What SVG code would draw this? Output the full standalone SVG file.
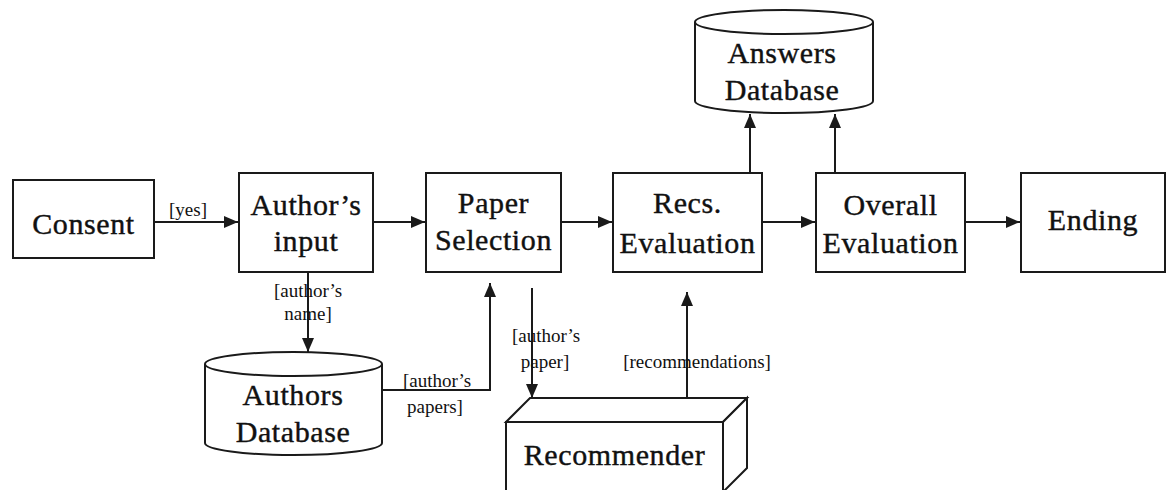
<svg xmlns="http://www.w3.org/2000/svg" width="1167" height="490" viewBox="0 0 1167 490">
  <style>
    .box { fill: #ffffff; stroke: #1a1a1a; stroke-width: 2; }
    .node { font-family: 'Liberation Serif', serif; font-size: 30px; letter-spacing: 0.6px; fill: #111111; stroke: #111111; stroke-width: 0.4; text-anchor: middle; }
    .edge { fill: none; stroke: #1a1a1a; stroke-width: 2; }
    .lbl { font-family: 'Liberation Serif', serif; font-size: 19px; fill: #111111; text-anchor: middle; }
  </style>
  <defs>
    <marker id="arrow" viewBox="0 0 14 12" refX="14" refY="6" markerWidth="14" markerHeight="12" markerUnits="userSpaceOnUse" orient="auto">
      <path d="M0,0 L14,6 L0,12 Z" fill="#1a1a1a"/>
    </marker>
  </defs>
  <rect width="1167" height="490" fill="#ffffff"/>

  <!-- process steps -->
  <g id="consent">
    <rect class="box" x="13" y="180" width="141" height="78"/>
    <text class="node" x="83.5" y="234">Consent</text>
  </g>
  <g id="authors-input">
    <rect class="box" x="239" y="173" width="134" height="99"/>
    <text class="node" x="306" y="215">Author’s</text>
    <text class="node" x="306" y="251">input</text>
  </g>
  <g id="paper-selection">
    <rect class="box" x="426" y="173" width="135" height="99"/>
    <text class="node" x="493.5" y="213">Paper</text>
    <text class="node" x="493.5" y="250">Selection</text>
  </g>
  <g id="recs-evaluation">
    <rect class="box" x="613" y="173" width="149" height="99"/>
    <text class="node" x="687.5" y="213">Recs.</text>
    <text class="node" x="687.5" y="253">Evaluation</text>
  </g>
  <g id="overall-evaluation">
    <rect class="box" x="816" y="173" width="149" height="99"/>
    <text class="node" x="890.5" y="215">Overall</text>
    <text class="node" x="890.5" y="253">Evaluation</text>
  </g>
  <g id="ending">
    <rect class="box" x="1021" y="173" width="144" height="99"/>
    <text class="node" x="1093" y="230">Ending</text>
  </g>

  <!-- data stores -->
  <g id="answers-database">
    <path class="box" d="M695,22 L695,101 A89,12 0 0 0 873,101 L873,22"/>
    <ellipse class="box" cx="784" cy="22" rx="89" ry="12"/>
    <text class="node" x="782" y="63">Answers</text>
    <text class="node" x="782" y="100">Database</text>
  </g>
  <g id="authors-database">
    <path class="box" d="M205,364 L205,443 A88.5,12 0 0 0 382,443 L382,364"/>
    <ellipse class="box" cx="293.5" cy="364" rx="88.5" ry="12"/>
    <text class="node" x="293" y="405">Authors</text>
    <text class="node" x="293" y="442">Database</text>
  </g>

  <!-- external component drawn as a 3D block -->
  <g id="recommender">
    <rect class="box" x="506" y="422" width="217" height="70"/>
    <polygon class="box" points="506,422 530,398 747,398 723,422"/>
    <polygon class="box" points="723,422 747,398 747,468 723,492"/>
    <text class="node" x="614.5" y="465">Recommender</text>
  </g>

  <!-- connectors -->
  <g id="connectors">
    <path class="edge" d="M154,222 H238" marker-end="url(#arrow)"/>
    <path class="edge" d="M373,222 H425" marker-end="url(#arrow)"/>
    <path class="edge" d="M561,222 H612" marker-end="url(#arrow)"/>
    <path class="edge" d="M762,222 H815" marker-end="url(#arrow)"/>
    <path class="edge" d="M965,222 H1020" marker-end="url(#arrow)"/>
    <path class="edge" d="M750,173 V114" marker-end="url(#arrow)"/>
    <path class="edge" d="M835,173 V114" marker-end="url(#arrow)"/>
    <path class="edge" d="M308,272 V352" marker-end="url(#arrow)"/>
    <path class="edge" d="M382,390 H490 V283" marker-end="url(#arrow)"/>
    <path class="edge" d="M532,288 V398" marker-end="url(#arrow)"/>
    <path class="edge" d="M687,398 V292" marker-end="url(#arrow)"/>

    <text class="lbl" x="188" y="216">[yes]</text>
    <text class="lbl" x="308" y="297">[author’s</text>
    <text class="lbl" x="308" y="320">name]</text>
    <text class="lbl" x="437" y="387">[author’s</text>
    <text class="lbl" x="435" y="413">papers]</text>
    <text class="lbl" x="546" y="342">[author’s</text>
    <text class="lbl" x="545" y="368">paper]</text>
    <text class="lbl" x="697" y="368">[recommendations]</text>
  </g>
</svg>
